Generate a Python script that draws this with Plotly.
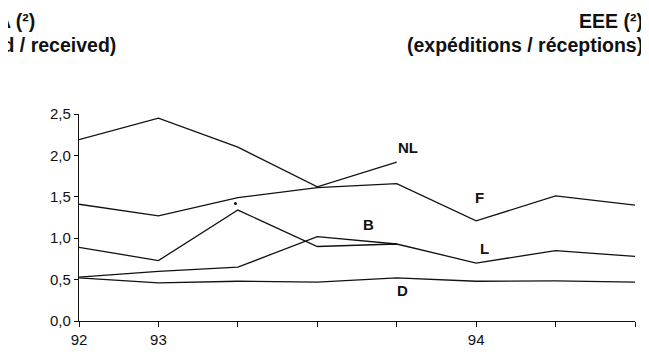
import plotly.graph_objects as go

periods = [0, 1, 2, 3, 4, 5, 6, 7]
tick_text = ["92", "93", "", "", "", "94", "", ""]
y_ticks = [0, 0.5, 1, 1.5, 2, 2.5]
y_tick_text = ["0,0", "0,5", "1,0", "1,5", "2,0", "2,5"]

nl = [2.19, 2.45, 2.10, 1.62, 1.92]
f = [1.41, 1.27, 1.49, 1.61, 1.66, 1.21, 1.51, 1.40]
l = [0.89, 0.73, 1.34, 0.90, 0.93, 0.70, 0.85, 0.78]
b = [0.53, 0.60, 0.65, 1.02, 0.93]
d = [0.52, 0.46, 0.48, 0.47, 0.52, 0.48, 0.485, 0.47]

series = [("NL", nl), ("F", f), ("L", l), ("B", b), ("D", d)]

labels = ["NL", "F", "B", "L", "D"]
label_x = [4.14, 5.04, 3.64, 5.1, 4.07]
label_y = [2.10, 1.49, 1.16, 0.88, 0.37]

dot_x = [1.97]
dot_y = [1.42]

# page body has an 8px margin: the figure is drawn 8px right / down of the window corner
OFF = 8
W, H = 649 - OFF, 352 - OFF
L_, T_ = 79 - OFF, 114 - OFF
R_ = W - (635 - OFF)
B_ = H - (321 - OFF)
pw, ph = W - L_ - R_, H - T_ - B_


def px(xr):
    return (xr - OFF - L_) / pw


def py(yr):
    return (H - B_ - (yr - OFF)) / ph


fig = go.Figure()
for name, vals in series:
    fig.add_trace(go.Scatter(x=periods[:len(vals)], y=vals, mode="lines", name=name,
                             line=dict(color="#111111", width=1.3), showlegend=False))

fig.add_trace(go.Scatter(x=dot_x, y=dot_y, mode="markers",
                         marker=dict(color="#111111", size=3), showlegend=False))

label_font = dict(family="Liberation Sans, Arial", size=15, color="#111111", weight="bold")
for t, x, y in zip(labels, label_x, label_y):
    fig.add_annotation(x=x, y=y, text=t, showarrow=False, xref="x", yref="y", font=label_font)

title_font = dict(family="Liberation Sans, Arial", size=19.5, color="#111111", weight="bold")
fig.add_annotation(x=px(37), y=py(21), xref="paper", yref="paper", xanchor="right", yanchor="middle",
                   text="EEA (²)", showarrow=False, font=title_font)
fig.add_annotation(x=px(118), y=py(45), xref="paper", yref="paper", xanchor="right", yanchor="middle",
                   text="(dispatched / received)", showarrow=False, font=title_font)
fig.add_annotation(x=px(645), y=py(21), xref="paper", yref="paper", xanchor="right", yanchor="middle",
                   text="EEE (²)", showarrow=False, font=title_font)
fig.add_annotation(x=px(645), y=py(45), xref="paper", yref="paper", xanchor="right", yanchor="middle",
                   text="(expéditions / réceptions)", showarrow=False, font=title_font)

axis_font = dict(family="Liberation Sans, Arial", size=15, color="#111111")
fig.update_layout(
    width=W, height=H,
    margin=dict(l=L_, r=R_, t=T_, b=B_, pad=0, autoexpand=False),
    paper_bgcolor="white", plot_bgcolor="white",
    xaxis=dict(range=[0, 7], tickvals=periods, ticktext=tick_text, showgrid=False, zeroline=False,
               showline=True, linecolor="#111111", linewidth=1.2, ticks="outside", ticklen=5,
               tickcolor="#111111", tickfont=axis_font, ticklabelstandoff=0, automargin=False),
    yaxis=dict(range=[0, 2.5], tickvals=y_ticks, ticktext=y_tick_text, showgrid=False, zeroline=False,
               showline=True, linecolor="#111111", linewidth=1.2, ticks="outside", ticklen=4,
               tickcolor="#111111", tickfont=axis_font, automargin=False),
)
fig.write_html("out.html")
